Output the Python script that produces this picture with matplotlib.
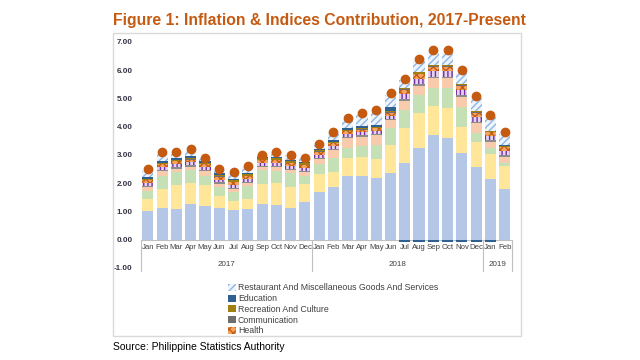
import numpy as np
import matplotlib
matplotlib.use('Agg')
import matplotlib.pyplot as plt
from matplotlib.patches import Patch, Rectangle

# Data
months = ['Jan', 'Feb', 'Mar', 'Apr', 'May', 'Jun', 'Jul', 'Aug', 'Sep', 'Oct', 'Nov', 'Dec',
          'Jan', 'Feb', 'Mar', 'Apr', 'May', 'Jun', 'Jul', 'Aug', 'Sep', 'Oct', 'Nov', 'Dec',
          'Jan', 'Feb']
years = ['2017', '2018', '2019']
year_spans = [(0, 11), (12, 23), (24, 25)]

inflation = [2.5, 3.1, 3.1, 3.2, 2.9, 2.5, 2.4, 2.6, 3.0, 3.1, 3.0, 2.9,
             3.4, 3.8, 4.3, 4.5, 4.6, 5.2, 5.7, 6.4, 6.7, 6.7, 6.0, 5.1,
             4.4, 3.8]

food = [1.00, 1.14, 1.09, 1.27, 1.19, 1.14, 1.07, 1.09, 1.27, 1.22, 1.14, 1.34,
        1.68, 1.85, 2.27, 2.27, 2.20, 2.36, 2.72, 3.26, 3.71, 3.61, 3.06, 2.58,
        2.16, 1.80]
alcohol = [0.44, 0.66, 0.84, 0.74, 0.74, 0.40, 0.30, 0.35, 0.71, 0.79, 0.73, 0.62,
           0.64, 0.56, 0.62, 0.67, 0.66, 1.00, 1.23, 1.22, 1.02, 1.04, 0.92, 0.89,
           0.88, 0.81]
housing = [0.28, 0.47, 0.45, 0.45, 0.34, 0.33, 0.31, 0.46, 0.48, 0.43, 0.49, 0.31,
           0.35, 0.48, 0.37, 0.38, 0.50, 0.59, 0.64, 0.64, 0.65, 0.73, 0.73, 0.32,
           0.20, 0.10]
transport = [0.13, 0.15, 0.14, 0.13, 0.15, 0.11, 0.11, 0.10, 0.11, 0.13, 0.10, 0.12,
             0.19, 0.27, 0.33, 0.33, 0.33, 0.29, 0.33, 0.33, 0.33, 0.33, 0.35, 0.33,
             0.23, 0.23]
clothing = [0.05, 0.05, 0.05, 0.05, 0.05, 0.05, 0.05, 0.05, 0.05, 0.05, 0.05, 0.05,
            0.05, 0.05, 0.05, 0.05, 0.05, 0.05, 0.05, 0.05, 0.05, 0.05, 0.05, 0.05,
            0.05, 0.05]
furnishing = [0.10, 0.10, 0.10, 0.10, 0.10, 0.10, 0.10, 0.10, 0.10, 0.10, 0.10, 0.10,
              0.10, 0.10, 0.10, 0.10, 0.10, 0.10, 0.18, 0.20, 0.20, 0.20, 0.18, 0.18,
              0.15, 0.15]
health = [0.10, 0.10, 0.10, 0.10, 0.10, 0.10, 0.10, 0.10, 0.10, 0.10, 0.10, 0.10,
          0.10, 0.10, 0.10, 0.10, 0.10, 0.10, 0.15, 0.16, 0.16, 0.16, 0.15, 0.15,
          0.13, 0.13]
communication = [0.02, 0.02, 0.02, 0.02, 0.02, 0.02, 0.02, 0.02, 0.02, 0.02, 0.02, 0.02,
                 0.02, 0.02, 0.02, 0.02, 0.02, 0.02, 0.02, 0.02, 0.02, 0.02, 0.02, 0.02,
                 0.02, 0.02]
recreation = [0.04, 0.04, 0.04, 0.04, 0.04, 0.04, 0.04, 0.04, 0.04, 0.04, 0.04, 0.04,
              0.04, 0.04, 0.04, 0.04, 0.04, 0.04, 0.04, 0.04, 0.04, 0.04, 0.04, 0.04,
              0.04, 0.04]
education = [0.06, 0.06, 0.06, 0.06, 0.06, 0.06, 0.06, 0.06, 0.06, 0.06, 0.06, 0.06,
             0.05, 0.05, 0.05, 0.05, 0.05, 0.14, -0.09, -0.09, -0.09, -0.09, -0.09, -0.09,
             -0.09, 0.02]
restaurant = [0.20, 0.24, 0.15, 0.17, 0.10, 0.12, 0.20, 0.20, 0.10, 0.16, 0.17, 0.14,
              0.15, 0.24, 0.28, 0.42, 0.48, 0.44, 0.28, 0.40, 0.44, 0.44, 0.40, 0.45,
              0.47, 0.38]

series = [
    ('Food And Non-Alcoholic Beverages', food, dict(color='#B4C7E7')),
    ('Alcoholic Beverages And Tobacco', alcohol, dict(color='#FFE699')),
    ('Housing, Water, Electricity, Gas And Other Fuels', housing, dict(color='#C5E0B4')),
    ('Transport', transport, dict(color='#F8CBAD')),
    ('Clothing And Footwear', clothing, dict(color='#8C8C8C')),
    ('Furnishing, Household Equipment', furnishing,
     dict(facecolor='#E4D3F0', edgecolor='#7030A0', hatch='||||')),
    ('Health', health, dict(facecolor='#F4A460', edgecolor='#C55A11', hatch='xxxx')),
    ('Communication', communication, dict(color='#6E6E6E')),
    ('Recreation And Culture', recreation, dict(color='#A07F12')),
    ('Education', education, dict(color='#2E6092')),
    ('Restaurant And Miscellaneous Goods And Services', restaurant,
     dict(facecolor='#EEF4FB', edgecolor='#8DB6E2', hatch='/////')),
]

plt.rcParams['hatch.linewidth'] = 1.0
plt.rcParams['font.family'] = ['Liberation Sans', 'DejaVu Sans']

fig = plt.figure(figsize=(6.4, 3.6), dpi=100)
ax = fig.add_axes([0.22, 0.2556, 0.5797, 0.6278])

x = np.arange(len(months))
pos_bottom = np.zeros(len(months))
neg_bottom = np.zeros(len(months))
handles = {}
for name, vals, style in series:
    v = np.array(vals)
    bottom = np.where(v >= 0, pos_bottom, neg_bottom)
    ax.bar(x, v, 0.78, bottom=bottom, linewidth=0, zorder=2, **style)
    pos_bottom += np.where(v >= 0, v, 0)
    neg_bottom += np.where(v < 0, v, 0)
    handles[name] = Patch(linewidth=0, **style)

ax.plot(x, inflation, 'o', color='#C55A11', markersize=6, zorder=4)

ax.set_xlim(-0.5, len(months) - 0.5)
ax.set_ylim(-1, 7)
ax.set_yticks(np.arange(-1, 8))
ax.set_yticklabels([f'{v:.2f}' for v in np.arange(-1, 8)], fontsize=5.8, fontweight='bold',
                   color='#333344')
ax.tick_params(axis='y', length=0, pad=6)
ax.set_xticks([])
for s in ax.spines.values():
    s.set_visible(False)
ax.axhline(0, color='#BFBFBF', linewidth=0.8, zorder=1)

# category axis labels
for i, m in enumerate(months):
    ax.text(i, -0.28, m, ha='center', va='center', fontsize=5.6, color='#404040')
for yr, (a, b) in zip(years, year_spans):
    ax.text((a + b) / 2, -0.88, yr, ha='center', va='center', fontsize=5.8, color='#404040')
for xs in [-0.5, 11.5, 23.5, 25.5]:
    ax.plot([xs, xs], [0, -1.12], color='#BFBFBF', linewidth=0.8, clip_on=False)

# legend (only the top five entries are visible)
leg_names = ['Restaurant And Miscellaneous Goods And Services', 'Education',
             'Recreation And Culture', 'Communication', 'Health']
fig.legend([handles[n] for n in leg_names], leg_names, loc='upper left',
           bbox_to_anchor=(224 / 640, 1 - 279 / 360), frameon=False, fontsize=6.3,
           handlelength=0.85, handleheight=0.85, handletextpad=0.25, labelspacing=0.2,
           borderpad=0, labelcolor='#404040')

# outer frame, title and source
fig.patches.append(Rectangle((113 / 640, 1 - 336 / 360), 408 / 640, 303 / 360,
                             transform=fig.transFigure, fill=False,
                             edgecolor='#D9D9D9', linewidth=1))
fig.text(113 / 640, 1 - 20 / 360, 'Figure 1: Inflation & Indices Contribution, 2017-Present',
         fontsize=11.3, fontweight='bold', color='#C55A11', va='center')
fig.text(113 / 640, 1 - 347 / 360, 'Source: Philippine Statistics Authority',
         fontsize=7.5, color='black', va='center')

fig.savefig('out.png', dpi=100)
